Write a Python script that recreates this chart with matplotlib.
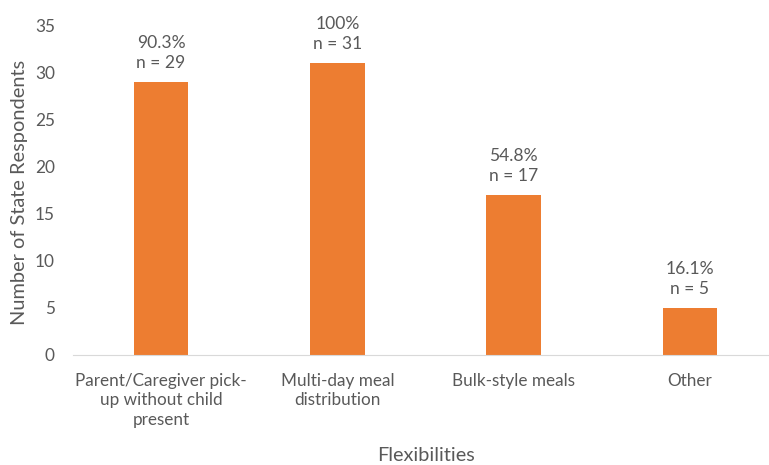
import matplotlib.pyplot as plt

categories = [
    "Parent/Caregiver pick-\nup without child\npresent",
    "Multi-day meal\ndistribution",
    "Bulk-style meals",
    "Other",
]
counts = [29, 31, 17, 5]
percents = ["90.3%", "100%", "54.8%", "16.1%"]

BAR_COLOR = "#ED7D31"
TEXT_COLOR = "#595959"

plt.rcParams["font.family"] = ["Lato", "DejaVu Sans"]


def main():
    fig = plt.figure(figsize=(7.69, 4.65), dpi=100)
    ax = fig.add_axes([0.0949, 0.2366, 0.9168, 0.708])

    x = range(len(categories))
    ax.bar(x, counts, width=0.31, color=BAR_COLOR, zorder=2)

    for i, (n, pct) in enumerate(zip(counts, percents)):
        ax.annotate(
            f"{pct}\nn = {n}",
            (i, n),
            xytext=(0, 8),
            textcoords="offset points",
            ha="center",
            va="bottom",
            fontsize=12.6,
            color=TEXT_COLOR,
            linespacing=1.3,
        )

    ax.set_xlim(-0.5, 3.5)
    ax.set_ylim(0, 35)
    ax.set_yticks(range(0, 36, 5))
    ax.set_xticks(list(x))
    ax.set_xticklabels(categories, fontsize=12.3, color=TEXT_COLOR, linespacing=1.25)
    ax.tick_params(axis="y", labelsize=12.4, labelcolor=TEXT_COLOR, length=0, pad=13)
    ax.tick_params(axis="x", length=0, pad=13)

    for side in ["top", "right", "left"]:
        ax.spines[side].set_visible(False)
    ax.spines["bottom"].set_color("#D9D9D9")

    # axis titles placed in figure coordinates
    fig.text(0.0254, 0.587, "Number of State Respondents", rotation=90,
             ha="center", va="center", fontsize=14.4, color=TEXT_COLOR)
    fig.text(0.5534, 0.0215, "Flexibilities", ha="center", va="center",
             fontsize=14.3, color=TEXT_COLOR)

    fig.savefig("out.png", dpi=100)


if __name__ == "__main__":
    main()
